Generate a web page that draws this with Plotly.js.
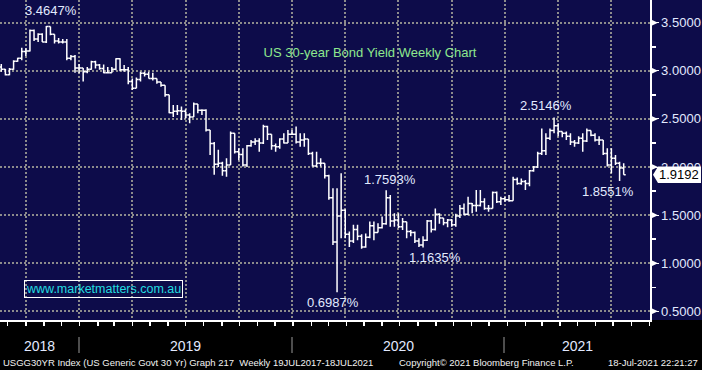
<!DOCTYPE html>
<html>
<head>
<meta charset="utf-8">
<script src="https://cdn.plot.ly/plotly-3.0.1.min.js"></script>
<style>
html,body{margin:0;padding:0;background:#000;}
#chart{width:702px;height:370px;}
</style>
</head>
<body>
<div id="chart"></div>
<script>
// Weekly bars, first week ending 2018-08-17
const firstWeek = '2018-08-17';
const open = [3.04,3.015,2.96,3.015,3.10,3.13,3.20,3.205,3.42,3.33,3.38,3.30,3.46,3.38,3.31,3.30,3.30,3.13,3.15,3.03,
3.03,2.99,3.015,3.095,3.06,3.025,2.98,2.98,3.015,3.125,3.01,3.01,2.89,2.82,2.91,2.975,2.965,2.92,2.92,2.885,
2.85,2.75,2.565,2.58,2.585,2.58,2.54,2.52,2.655,2.59,2.59,2.385,2.245,2.03,2.04,1.96,2.02,2.35,2.16,2.13,
2.02,2.22,2.26,2.27,2.25,2.42,2.34,2.22,2.21,2.29,2.25,2.34,2.34,2.26,2.28,2.29,2.14,2.01,2.04,2.04,
1.91,1.68,1.22,1.49,1.55,1.30,1.23,1.35,1.28,1.17,1.27,1.39,1.32,1.37,1.41,1.68,1.44,1.45,1.38,1.43,
1.33,1.32,1.23,1.19,1.24,1.44,1.35,1.51,1.47,1.42,1.45,1.40,1.49,1.57,1.51,1.62,1.60,1.60,1.64,1.57,
1.57,1.735,1.64,1.67,1.66,1.65,1.87,1.83,1.85,1.83,1.96,2.00,2.14,2.17,2.30,2.38,2.43,2.37,2.35,2.32,
2.26,2.25,2.30,2.27,2.38,2.33,2.28,2.28,2.14,2.02,2.09,2.04,1.99];
const high = [3.07,3.02,3.03,3.11,3.135,3.24,3.235,3.43,3.43,3.39,3.39,3.4647,3.46,3.38,3.34,3.33,3.33,3.165,3.165,3.07,
3.03,3.04,3.105,3.105,3.07,3.065,3.04,3.04,3.13,3.13,3.06,3.04,2.92,2.93,2.99,2.99,2.99,2.98,2.92,2.885,
2.85,2.75,2.645,2.645,2.63,2.60,2.56,2.67,2.655,2.60,2.60,2.385,2.26,2.18,2.055,2.09,2.37,2.35,2.195,2.195,
2.23,2.28,2.30,2.30,2.44,2.43,2.34,2.245,2.30,2.35,2.386,2.386,2.42,2.35,2.35,2.29,2.16,2.16,2.09,2.04,
1.92,1.78,1.78,1.935,1.56,1.33,1.40,1.40,1.30,1.31,1.435,1.435,1.415,1.485,1.7593,1.71,1.52,1.52,1.47,1.43,
1.345,1.33,1.26,1.28,1.45,1.45,1.57,1.52,1.47,1.46,1.46,1.515,1.605,1.62,1.69,1.625,1.76,1.76,1.675,1.605,
1.745,1.745,1.69,1.69,1.71,1.90,1.89,1.88,1.865,1.97,2.01,2.16,2.40,2.35,2.40,2.5146,2.455,2.37,2.37,2.35,
2.28,2.32,2.35,2.40,2.38,2.35,2.32,2.28,2.195,2.195,2.125,2.055,2.04];
const low = [2.99,2.95,2.955,3.01,3.095,3.11,3.155,3.20,3.31,3.30,3.30,3.29,3.37,3.285,3.285,3.285,3.11,3.11,2.98,2.975,
2.89,2.975,3.01,3.025,3.01,2.975,2.975,2.98,3.005,2.995,2.99,2.86,2.80,2.82,2.89,2.94,2.92,2.90,2.865,2.835,
2.73,2.56,2.52,2.54,2.49,2.505,2.455,2.52,2.56,2.54,2.37,2.125,1.92,2.00,1.91,1.90,2.02,2.14,2.07,2.005,
2.00,2.21,2.23,2.16,2.24,2.28,2.18,2.16,2.19,2.245,2.25,2.335,2.245,2.21,2.21,2.125,2.005,2.00,2.005,1.88,
1.66,1.19,0.6987,1.26,1.26,1.17,1.21,1.24,1.15,1.16,1.26,1.24,1.32,1.36,1.40,1.38,1.38,1.365,1.345,1.26,
1.28,1.21,1.17,1.1635,1.23,1.32,1.34,1.41,1.395,1.375,1.38,1.38,1.47,1.50,1.50,1.52,1.535,1.59,1.555,1.535,
1.57,1.625,1.605,1.64,1.64,1.65,1.815,1.815,1.76,1.80,1.95,1.99,2.125,2.125,2.28,2.35,2.32,2.31,2.28,2.23,
2.21,2.24,2.16,2.26,2.32,2.265,2.23,2.125,2.005,1.935,2.02,1.8551,1.92];
const close = [3.015,2.96,3.015,3.10,3.13,3.20,3.205,3.42,3.33,3.38,3.30,3.46,3.38,3.31,3.30,3.30,3.13,3.15,3.03,3.03,
2.99,3.015,3.095,3.06,3.025,2.98,2.98,3.015,3.125,3.01,3.01,2.89,2.82,2.91,2.975,2.965,2.92,2.92,2.885,2.85,
2.75,2.565,2.58,2.585,2.58,2.54,2.52,2.655,2.59,2.59,2.385,2.245,2.03,2.04,1.96,2.02,2.35,2.16,2.13,2.02,
2.22,2.26,2.27,2.25,2.42,2.34,2.22,2.21,2.29,2.25,2.34,2.34,2.26,2.28,2.29,2.14,2.01,2.04,2.04,1.91,
1.68,1.22,1.49,1.55,1.30,1.23,1.35,1.28,1.17,1.27,1.39,1.32,1.37,1.41,1.68,1.44,1.45,1.38,1.43,1.33,
1.32,1.23,1.19,1.24,1.44,1.35,1.51,1.47,1.42,1.45,1.40,1.49,1.57,1.51,1.62,1.60,1.60,1.64,1.57,1.57,
1.735,1.64,1.67,1.66,1.65,1.87,1.83,1.85,1.83,1.96,2.00,2.14,2.17,2.30,2.38,2.43,2.37,2.35,2.32,2.26,
2.25,2.30,2.27,2.38,2.33,2.28,2.28,2.14,2.02,2.09,2.04,1.99,1.9192];
const yTicks = [0.5,1.0,1.5,2.0,2.5,3.0,3.5];
const yearLabels = ['2018','2019','2020','2021'];
const titleText = 'US 30-year Bond Yield Weekly Chart';
const footerLeft = 'USGG30YR Index (US Generic Govt 30 Yr) Graph 217  Weekly 19JUL2017-18JUL2021';
const footerMid = 'Copyright\u00A9 2021 Bloomberg Finance L.P.';
const footerRight = '18-Jul-2021 22:21:27';
const siteText = 'www.marketmatters.com.au';

// week dates
const t0 = Date.parse(firstWeek + 'T00:00:00Z');
const dates = open.map((_, i) => new Date(t0 + i * 7 * 864e5).toISOString().slice(0, 10));

const W = 650, H = 320; // plot area in px
const px = x => x / W;
const py = y => 1 - y / H;

const FONT = 'Liberation Sans, Arial, sans-serif';
const LBL = '#e2eaff';
const xRange = ['2018-08-14 19:00', '2021-08-30'];

const traces = [
  {
    type: 'ohlc', x: dates, open: open, high: high, low: low, close: close,
    increasing: {line: {color: '#ffffff', width: 1.5}},
    decreasing: {line: {color: '#ffffff', width: 1.5}},
    tickwidth: 0.5, hoverinfo: 'skip', xaxis: 'x', yaxis: 'y'
  },
  {
    type: 'scatter', mode: 'lines', x: dates, y: close, xaxis: 'x2', yaxis: 'y',
    opacity: 0, line: {width: 0}, hoverinfo: 'skip', showlegend: false
  }
];

const shapes = [];
// bottom black band
shapes.push({type: 'rect', xref: 'paper', yref: 'paper', x0: -0.1, x1: 1.2, y0: -0.4, y1: 0,
  fillcolor: '#000000', line: {width: 0}, layer: 'below'});
// right-axis triangles
yTicks.forEach(v => {
  shapes.push({type: 'path', xref: 'paper', yref: 'y',
    path: `M ${px(651)},${v + 0.034} L ${px(651)},${v - 0.034} L ${px(658)},${v} Z`,
    fillcolor: '#ffffff', line: {width: 0}, layer: 'above'});
});
// year separators
[79, 292, 504].forEach(x => {
  shapes.push({type: 'line', xref: 'paper', yref: 'paper', x0: px(x), x1: px(x), y0: py(337), y1: py(353),
    line: {color: '#9a9a9a', width: 1}});
});
// last price tag
const last = close[close.length - 1];
const hh = 8.3 / 96.2;
shapes.push({type: 'path', xref: 'paper', yref: 'y',
  path: `M ${px(653)},${last} L ${px(658)},${last + hh} L ${px(701)},${last + hh} L ${px(701)},${last - hh} L ${px(658)},${last - hh} Z`,
  fillcolor: '#ffffff', line: {width: 0}, layer: 'above'});

const ann = [];
function valLabel(i, v, xs, ys) {
  ann.push({x: dates[i], y: v, xref: 'x', yref: 'y', text: v.toFixed(4) + '%', showarrow: false,
    xanchor: 'center', yanchor: 'middle', xshift: xs, yshift: ys,
    font: {family: FONT, size: 13, color: LBL}});
}
valLabel(11, high[11], 5, 15.6);
valLabel(135, high[135], -7.6, 12.2);
valLabel(94, high[94], 4.3, 10.2);
valLabel(82, low[82], -4, -9.8);
valLabel(103, low[103], 12.4, -9.5);
valLabel(151, low[151], -12, -10.6);

ann.push({xref: 'paper', yref: 'y', x: px(679), y: last, text: last.toFixed(4), showarrow: false,
  xanchor: 'center', yanchor: 'middle', font: {family: FONT, size: 13, color: '#000000'}});

ann.push({xref: 'paper', yref: 'paper', x: px(103), y: py(289), text: siteText, showarrow: false,
  xanchor: 'center', yanchor: 'middle', bordercolor: '#ffffff', borderwidth: 1, borderpad: 1,
  font: {family: FONT, size: 12.5, color: '#22dde0'}});

const yearX = [39.5, 185.5, 398, 577];
yearLabels.forEach((t, k) => {
  ann.push({xref: 'paper', yref: 'paper', x: px(yearX[k]), y: py(346), text: t, showarrow: false,
    xanchor: 'center', yanchor: 'middle', font: {family: FONT, size: 14, color: LBL}});
});
[[footerLeft, 1], [footerMid, 397], [footerRight, 606]].forEach(([t, x]) => {
  ann.push({xref: 'paper', yref: 'paper', x: px(x), y: py(362.5), text: t, showarrow: false,
    xanchor: 'left', yanchor: 'middle', font: {family: FONT, size: 9.5, color: '#f2f2f2'}});
});

const gridStyle = {showgrid: true, gridcolor: '#8c8c8c', griddash: '2px,2px', gridwidth: 2};

const layout = {
  width: 702, height: 370,
  margin: {l: 0, r: 52, t: 0, b: 50, pad: 0},
  paper_bgcolor: '#0d0c4a', plot_bgcolor: '#0d0c4a',
  showlegend: false,
  font: {family: FONT, color: LBL},
  title: {text: titleText, xref: 'paper', yref: 'paper', x: px(370), y: py(52.5),
    xanchor: 'center', yanchor: 'middle', font: {family: FONT, size: 13, color: '#8ee88e'}},
  xaxis: Object.assign({
    type: 'date', range: xRange, tick0: '2018-09-28', dtick: 13 * 7 * 864e5,
    showticklabels: false, ticks: '', showline: false, zeroline: false,
    rangeslider: {visible: false}, fixedrange: true
  }, gridStyle),
  xaxis2: {
    type: 'date', range: xRange, overlaying: 'x', side: 'bottom', anchor: 'y',
    showgrid: false, showline: true, linecolor: '#ffffff', linewidth: 1.5,
    ticks: 'outside', ticklen: 4, tickwidth: 1.5, tickcolor: '#ffffff',
    tick0: '2018-08-28', dtick: 'M1', showticklabels: false, zeroline: false, fixedrange: true
  },
  yaxis: Object.assign({
    side: 'right', range: [0.41, 3.736], tick0: 0.5, dtick: 0.5, tickformat: '.4f',
    showline: true, linecolor: '#ffffff', linewidth: 1.5,
    ticks: 'outside', ticklen: 7, tickwidth: 1, tickcolor: '#ffffff',
    tickfont: {family: FONT, size: 13, color: LBL},
    minor: {ticks: 'outside', ticklen: 4, tickwidth: 1.5, tickcolor: '#ffffff', dtick: 0.25, tick0: 0.5, showgrid: false},
    zeroline: false, fixedrange: true
  }, gridStyle),
  shapes: shapes,
  annotations: ann
};

Plotly.newPlot('chart', traces, layout, {displayModeBar: false, staticPlot: true});
</script>
</body>
</html>
